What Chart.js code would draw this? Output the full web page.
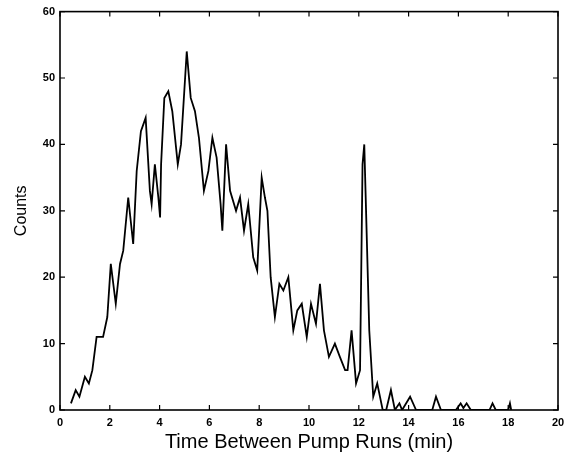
<!DOCTYPE html>
<html>
<head>
<meta charset="utf-8">
<script src="https://cdn.jsdelivr.net/npm/chart.js@4"></script>
<style>
html,body{margin:0;padding:0;background:#fff;}
canvas{display:block;}
</style>
</head>
<body>
<canvas id="c" width="572" height="454"></canvas>
<script>
const times = [0.44,0.63,0.78,1.0,1.16,1.3,1.47,1.73,1.9,2.04,2.24,2.41,2.54,2.74,2.94,3.08,3.25,3.44,3.61,3.68,3.81,3.95,4.02,4.06,4.19,4.35,4.51,4.73,4.86,5.09,5.25,5.42,5.58,5.78,5.96,6.12,6.29,6.45,6.52,6.67,6.83,7.07,7.23,7.39,7.56,7.76,7.92,8.1,8.23,8.33,8.46,8.63,8.81,8.97,9.17,9.37,9.53,9.71,9.91,10.08,10.28,10.44,10.6,10.8,11.04,11.24,11.45,11.55,11.71,11.89,12.05,12.15,12.22,12.27,12.42,12.58,12.74,12.96,13.1,13.29,13.45,13.63,13.74,14.06,14.3,14.95,15.1,15.3,15.9,16.09,16.2,16.33,16.5,17.25,17.37,17.5,18.0,18.07,18.12];
const counts = [1,3,2,5,4,6,11,11,14,22,16,22,24,32,25,36,42,44,33,31,37,32,29,37,47,48,45,37,40,54,47,45,41,33,36,41,38,31,27,40,33,30,32,27,31,23,21,35,32,30,20,14,19,18,20,12,15,16,11,16,13,19,12,8,10,8,6,6,12,4,6,37,40,33,12,2,4,0,0,3,0,1,0,2,0,0,2,0,0,1,0.3,1,0,0,1,0,0,1,0];
const xTicks = [0,2,4,6,8,10,12,14,16,18,20];
const yTicks = [0,10,20,30,40,50,60];

const framePlugin = {
  id: 'frame',
  beforeDraw(chart) {
    const ctx = chart.ctx;
    ctx.save();
    ctx.fillStyle = '#ffffff';
    ctx.fillRect(0, 0, chart.width, chart.height);
    ctx.restore();
  },
  afterDraw(chart) {
    const ctx = chart.ctx;
    const a = chart.chartArea;
    const xs = chart.scales.x, ys = chart.scales.y;
    const L = 5;
    ctx.save();
    ctx.strokeStyle = '#000';
    ctx.lineWidth = 1.6;
    ctx.strokeRect(a.left, a.top, a.right - a.left, a.bottom - a.top);
    ctx.lineWidth = 1.2;
    ctx.beginPath();
    xTicks.forEach(v => {
      const px = xs.getPixelForValue(v);
      ctx.moveTo(px, a.bottom); ctx.lineTo(px, a.bottom - L);
      ctx.moveTo(px, a.top); ctx.lineTo(px, a.top + L);
    });
    yTicks.forEach(v => {
      const py = ys.getPixelForValue(v);
      ctx.moveTo(a.left, py); ctx.lineTo(a.left + L, py);
      ctx.moveTo(a.right, py); ctx.lineTo(a.right - L, py);
    });
    ctx.stroke();
    ctx.restore();
  }
};

new Chart(document.getElementById('c'), {
  type: 'line',
  data: {
    datasets: [{
      data: times.map((t, i) => ({x: t, y: counts[i]})),
      borderColor: '#000',
      borderWidth: 1.8,
      pointRadius: 0,
      tension: 0,
      fill: false
    }]
  },
  options: {
    responsive: false,
    animation: false,
    devicePixelRatio: 1,
    layout: {padding: {top: 9, right: 14, left: 0, bottom: 0}},
    plugins: {legend: {display: false}, tooltip: {enabled: false}},
    scales: {
      x: {
        type: 'linear', min: 0, max: 20,
        afterBuildTicks: s => { s.ticks = xTicks.map(v => ({value: v})); },
        afterFit: s => { s.height = 44; },
        grid: {display: false, drawTicks: false},
        border: {display: false},
        ticks: {color: '#000', padding: 6, font: {family: 'Liberation Sans, Arial, sans-serif', size: 11, weight: 'bold'}, maxRotation: 0},
        title: {display: true, text: 'Time Between Pump Runs (min)', color: '#000', padding: {top: 0, bottom: 0}, font: {family: 'Liberation Sans, Arial, sans-serif', size: 20, lineHeight: 1.2}}
      },
      y: {
        type: 'linear', min: 0, max: 60,
        afterBuildTicks: s => { s.ticks = yTicks.map(v => ({value: v})); },
        afterFit: s => { s.width = 60; },
        grid: {display: false, drawTicks: false},
        border: {display: false},
        ticks: {color: '#000', padding: 5, font: {family: 'Liberation Sans, Arial, sans-serif', size: 11, weight: 'bold'}},
        title: {display: true, text: 'Counts', color: '#000', padding: {top: 12, bottom: 0}, font: {family: 'Liberation Sans, Arial, sans-serif', size: 16, lineHeight: 1.2}}
      }
    }
  },
  plugins: [framePlugin]
});
</script>
</body>
</html>
